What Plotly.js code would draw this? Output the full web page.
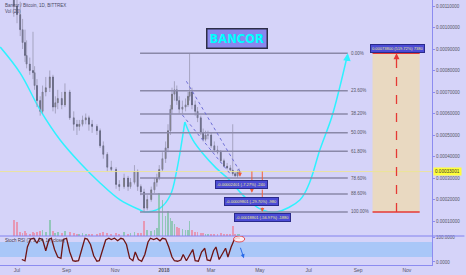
<!DOCTYPE html>
<html><head><meta charset="utf-8">
<script src="https://cdn.plot.ly/plotly-3.0.1.min.js"></script>
<style>html,body{margin:0;padding:0;background:#d5d3f9;}#chart{width:466px;height:275px;}</style>
</head><body><div id="chart"></div>
<script>
const dates = ['2017-06-27','2017-07-01','2017-07-05','2017-07-08','2017-07-11','2017-07-13','2017-07-17','2017-07-21','2017-07-23','2017-07-26',
'2017-07-30','2017-08-02','2017-08-06','2017-08-11','2017-08-15','2017-08-18','2017-08-21','2017-08-26','2017-08-30','2017-09-05',
'2017-09-10','2017-09-14','2017-09-17','2017-09-21','2017-09-25','2017-09-29','2017-10-03','2017-10-09','2017-10-13','2017-10-17',
'2017-10-22','2017-10-27','2017-11-02','2017-11-06','2017-11-12','2017-11-17','2017-11-20','2017-11-25','2017-11-29','2017-12-03',
'2017-12-07','2017-12-11','2017-12-16','2017-12-20','2017-12-23','2017-12-26','2017-12-30','2018-01-03','2018-01-06','2018-01-09',
'2018-01-11','2018-01-14','2018-01-17','2018-01-20','2018-01-24','2018-01-28','2018-01-31','2018-02-02','2018-02-05','2018-02-09',
'2018-02-12','2018-02-16','2018-02-19','2018-02-22','2018-02-25','2018-03-01','2018-03-05','2018-03-09','2018-03-13','2018-03-17',
'2018-03-21','2018-03-25','2018-03-28','2018-03-31','2018-04-03','2018-04-05'];
const open = [0.00118,0.00110,0.00106,0.00099,0.00093,0.00087,0.00083,0.00080,0.00079,0.00073,
0.00066,0.00061,0.00070,0.00072,0.00077,0.00063,0.00065,0.00067,0.00064,0.00070,
0.00058,0.00055,0.00054,0.00055,0.00057,0.00058,0.00055,0.00054,0.00052,0.00045,
0.00041,0.00035,0.00034,0.00027,0.00026,0.00030,0.00026,0.00028,0.00033,0.00026,
0.000235,0.00016,0.00020,0.000245,0.00028,0.00030,0.00034,0.00039,0.00044,0.00052,
0.00062,0.00069,0.00071,0.00066,0.00062,0.00063,0.00064,0.00068,0.00070,0.00064,
0.00061,0.00058,0.00051,0.00048,0.00050,0.00050,0.00045,0.00043,0.00042,0.00038,
0.000355,0.000347,0.000337,0.00032,0.00031,0.000328];
const high = [0.00140,0.00128,0.00112,0.00104,0.00099,0.00094,0.00086,0.00098,0.00082,0.00076,
0.00068,0.00073,0.00077,0.00080,0.00078,0.00068,0.00071,0.00070,0.00074,0.00071,
0.00061,0.00057,0.00057,0.00059,0.00060,0.00059,0.00057,0.00055,0.00053,0.00047,
0.00042,0.00038,0.00035,0.00029,0.00032,0.00031,0.00030,0.00036,0.00034,0.00027,
0.00025,0.00022,0.00026,0.00030,0.00032,0.00036,0.00042,0.00047,0.00055,0.00064,
0.00072,0.00075,0.00073,0.00068,0.00066,0.00067,0.00070,0.00088,0.00072,0.00066,
0.00063,0.00059,0.00053,0.00052,0.00052,0.00051,0.00047,0.00045,0.00043,0.00039,
0.00037,0.00036,0.00055,0.00033,0.00034,0.000345];
const low = [0.00105,0.00102,0.00096,0.00090,0.00084,0.00081,0.00078,0.00076,0.00071,0.00063,
0.00059,0.00060,0.00068,0.00070,0.00061,0.00060,0.00062,0.00062,0.00063,0.00057,
0.00052,0.00050,0.00052,0.00054,0.00055,0.00052,0.00051,0.00050,0.00044,0.00039,
0.00033,0.00033,0.00025,0.00024,0.00025,0.00024,0.00025,0.00027,0.00024,0.00022,
0.000142,0.00015,0.00019,0.00023,0.00026,0.00029,0.00033,0.00037,0.00042,0.00050,
0.00060,0.00066,0.00064,0.00060,0.00060,0.00061,0.00063,0.00066,0.00062,0.00059,
0.00056,0.00050,0.00047,0.00047,0.00048,0.00044,0.00042,0.00041,0.00037,0.00035,
0.00034,0.00033,0.00031,0.000305,0.00030,0.00032];
const close = [0.00110,0.00106,0.00099,0.00093,0.00087,0.00083,0.00080,0.00079,0.00073,0.00066,
0.00061,0.00070,0.00072,0.00077,0.00063,0.00065,0.00067,0.00064,0.00070,0.00058,
0.00055,0.00054,0.00055,0.00057,0.00058,0.00055,0.00054,0.00052,0.00045,0.00041,
0.00035,0.00034,0.00027,0.00026,0.00030,0.00026,0.00028,0.00033,0.00026,0.000235,
0.00016,0.00020,0.000245,0.00028,0.00030,0.00034,0.00039,0.00044,0.00052,0.00062,
0.00069,0.00071,0.00066,0.00062,0.00063,0.00064,0.00068,0.00070,0.00064,0.00061,
0.00058,0.00051,0.00048,0.00050,0.00050,0.00045,0.00043,0.00042,0.00038,0.000355,
0.000347,0.000337,0.00032,0.00031,0.000328,0.00033001];
const volume = [160,140,40,30,50,30,20,40,30,40,50,60,40,160,50,30,40,30,50,40,
30,20,20,30,20,20,20,20,30,40,30,20,30,20,40,20,30,40,30,30,
150,60,50,60,80,430,360,200,250,180,150,120,90,80,70,60,60,150,60,40,
40,30,30,20,20,20,20,20,30,20,20,20,100,20,20,20];

const rsiDates = ['2017-07-07','2017-07-11','2017-07-14','2017-07-18','2017-07-22','2017-07-26','2017-07-29','2017-08-02','2017-08-06','2017-08-10',
'2017-08-13','2017-08-17','2017-08-21','2017-08-25','2017-08-28','2017-09-01','2017-09-05','2017-09-09','2017-09-12','2017-09-16',
'2017-09-20','2017-09-24','2017-09-27','2017-10-01','2017-10-05','2017-10-09','2017-10-12','2017-10-16','2017-10-20','2017-10-24',
'2017-10-27','2017-10-31','2017-11-04','2017-11-08','2017-11-11','2017-11-15','2017-11-19','2017-11-23','2017-11-26','2017-11-30',
'2017-12-04','2017-12-08','2017-12-12','2017-12-15','2017-12-19','2017-12-23','2017-12-27','2017-12-30','2018-01-03','2018-01-07',
'2018-01-11','2018-01-14','2018-01-18','2018-01-22','2018-01-25','2018-01-29','2018-02-02','2018-02-06','2018-02-09','2018-02-13',
'2018-02-17','2018-02-21','2018-02-24','2018-02-28','2018-03-04','2018-03-07','2018-03-11','2018-03-15','2018-03-19','2018-03-22',
'2018-03-26','2018-03-30','2018-04-03','2018-04-06'];
const stochRsi = [10,5,60,92,95,75,95,90,45,90,
95,50,20,15,90,95,40,5,3,5,
50,95,92,70,25,3,5,50,88,95,
90,95,85,95,92,70,15,5,40,10,
3,30,80,95,90,95,85,95,92,60,
20,5,3,8,30,5,25,50,5,3,
40,55,8,5,45,60,10,30,55,20,
60,90,97,95];

// hand-drawn cyan arcs (date, price)
const arcADates = ['2017-06-10','2017-07-05','2017-07-30','2017-08-24','2017-09-18','2017-10-13','2017-11-07','2017-12-02','2017-12-08','2017-12-27','2018-01-09','2018-01-17','2018-01-23','2018-01-27'];
const arcAPrices = [0.000909,0.000788,0.000616,0.000477,0.00037,0.000277,0.000198,0.000151,0.000142,0.00016,0.000221,0.000337,0.000463,0.00056];
const arcBDates = ['2018-01-27','2018-02-06','2018-02-18','2018-03-07','2018-03-24','2018-04-06','2018-04-19','2018-05-04','2018-05-22','2018-06-20','2018-07-02','2018-07-15','2018-07-30','2018-08-09','2018-08-18'];
const arcBPrices = [0.00056,0.000477,0.000416,0.000347,0.000291,0.000235,0.000188,0.000151,0.000142,0.000198,0.000277,0.00043,0.000584,0.000723,0.000863];

const fibHigh = 0.00088, fibLow = 0.000142;
const fibRatios = [0, 0.236, 0.382, 0.5, 0.618, 0.786, 0.886, 1];
const fibLabels = ['0.00%','23.60%','38.20%','50.00%','61.80%','78.60%','88.60%','100.00%'];
const fibStart = '2017-12-02', fibEnd = '2018-08-19';
const lastPrice = 0.00033001;
const priceTicks = [0.0001,0.0002,0.0003,0.0004,0.0005,0.0006,0.0007,0.0008,0.0009,0.0010,0.0011];
const monthTicks = ['2017-07-01','2017-09-01','2017-11-01','2018-01-01','2018-03-01','2018-05-01','2018-07-01','2018-09-01','2018-11-01'];
const monthLabels = ['Jul','Sep','Nov','<b>2018</b>','Mar','May','Jul','Sep','Nov'];

const BG = '#d5d3f9';
const FONT = 'Liberation Sans, Arial, sans-serif';

// wicks
const wx = [], wy = [];
dates.forEach((d,i)=>{ wx.push(d,d,null); wy.push(low[i],high[i],null); });
const bodyHi = open.map((o,i)=>Math.max(o,close[i]));
const bodyLo = open.map((o,i)=>Math.min(o,close[i]));
const volColors = close.map((c,i)=> c>=open[i] ? 'rgba(110,190,150,0.65)' : 'rgba(240,120,145,0.65)');

const traces = [
  {type:'bar', x:dates, y:volume, yaxis:'y3', marker:{color:volColors, line:{width:0}}, width:2.2*86400000, hoverinfo:'skip'},
  {type:'scatter', mode:'lines', x:arcADates, y:arcAPrices, line:{color:'#2ef2ff', width:1.5, shape:'spline'}, hoverinfo:'skip'},
  {type:'scatter', mode:'lines', x:arcBDates, y:arcBPrices, line:{color:'#2ef2ff', width:1.5, shape:'spline'}, hoverinfo:'skip'},
  {type:'scatter', mode:'lines', x:wx, y:wy, line:{color:'rgba(150,148,175,0.75)', width:1}, hoverinfo:'skip'},
  {type:'candlestick', x:dates, open:open, high:bodyHi, low:bodyLo, close:close,
   increasing:{line:{color:'#2b2f45', width:0.6}, fillcolor:'#aaa53a'},
   decreasing:{line:{color:'#2b2f45', width:0.6}, fillcolor:'#2b3550'},
   whiskerwidth:0, hoverinfo:'skip'},
  {type:'scatter', mode:'lines', x:rsiDates, y:stochRsi, yaxis:'y2', line:{color:'#6e1414', width:1.3}, hoverinfo:'skip'}
];

const shapes = [];
const annotations = [];
shapes.push({type:'rect', xref:'paper', yref:'y2', x0:0, x1:1, y0:20, y1:80, fillcolor:'#a9c7f8', line:{width:0}, layer:'below'});
shapes.push({type:'line', xref:'paper', yref:'paper', x0:0, x1:1.075, y0:0.1094, y1:0.1094, line:{color:'#8282ee', width:1}});
shapes.push({type:'line', xref:'paper', yref:'y', x0:0, x1:1, y0:lastPrice, y1:lastPrice, line:{color:'rgba(236,228,150,0.9)', width:1}});
fibRatios.forEach((r,i)=>{
  const p = fibHigh - r*(fibHigh-fibLow);
  shapes.push({type:'line', xref:'x', yref:'y', x0:fibStart, x1:fibEnd, y0:p, y1:p, line:{color:'#8a88a8', width:1.5}});
  annotations.push({x:'2018-08-21', y:p, xref:'x', yref:'y', text:fibLabels[i], showarrow:false, xanchor:'left', yanchor:'middle', font:{size:4.5, color:'#555566', family:FONT}});
});
shapes.push({type:'rect', xref:'x', yref:'y', x0:'2018-09-19', x1:'2018-11-17', y0:fibLow, y1:fibHigh, fillcolor:'#e9d9c1', line:{width:0}, layer:'below'});
shapes.push({type:'line', xref:'x', yref:'y', x0:'2018-09-19', x1:'2018-11-17', y0:fibHigh, y1:fibHigh, line:{color:'#e53935', width:1.5}});
shapes.push({type:'line', xref:'x', yref:'y', x0:'2018-09-19', x1:'2018-11-17', y0:fibLow, y1:fibLow, line:{color:'#e53935', width:1.5}});
shapes.push({type:'line', xref:'x', yref:'y', x0:'2018-10-19', x1:'2018-10-19', y0:fibLow, y1:fibHigh-0.00001, line:{color:'#e53935', width:1.3, dash:'dash'}});
annotations.push({x:'2018-10-19', y:fibHigh, xref:'x', yref:'y', ax:0, ay:6, showarrow:true, arrowhead:2, arrowsize:1, arrowwidth:1.2, arrowcolor:'#e53935', text:''});
shapes.push({type:'line', xref:'x', yref:'y', x0:'2018-01-29', x1:'2018-04-06', y0:0.00075, y1:0.00033, line:{color:'#6f6fd6', width:1, dash:'dot'}});
shapes.push({type:'line', xref:'x', yref:'y', x0:'2018-01-24', x1:'2018-03-26', y0:0.000593, y1:0.000314, line:{color:'#6f6fd6', width:1, dash:'dot'}});
const mArrows = [['2018-04-06',0.000306],['2018-04-21',0.000232],['2018-05-04',0.000142]];
mArrows.forEach(m=>{
  shapes.push({type:'line', xref:'x', yref:'y', x0:m[0], x1:m[0], y0:lastPrice, y1:m[1]+0.000008, line:{color:'#f0603c', width:1, dash:'dash'}});
  annotations.push({x:m[0], y:m[1], xref:'x', yref:'y', ax:0, ay:-5, showarrow:true, arrowhead:2, arrowsize:0.8, arrowwidth:1, arrowcolor:'#f0603c', text:''});
});
const boxStyle = {bgcolor:'#4b4bd6', bordercolor:'#2a2a8a', borderwidth:1, borderpad:1, showarrow:false, xanchor:'center', yanchor:'middle', font:{size:4, color:'#f2ee88', family:FONT}};
annotations.push(Object.assign({x:'2018-04-08', y:0.00027, xref:'x', yref:'y', text:'-0.00002401 (-7.27%) -240'}, boxStyle));
annotations.push(Object.assign({x:'2018-04-20', y:0.000191, xref:'x', yref:'y', text:'-0.00009801 (-29.70%) -980'}, boxStyle));
annotations.push(Object.assign({x:'2018-05-04', y:0.000116, xref:'x', yref:'y', text:'-0.00018801 (-56.97%) -1880'}, boxStyle));
annotations.push(Object.assign({x:'2018-10-20', y:0.000902, xref:'x', yref:'y', text:'0.00073800 (519.72%) 7380'}, boxStyle));
annotations.push({x:'2018-08-19', y:0.00088, xref:'x', yref:'y', ax:-1, ay:9, showarrow:true, arrowhead:2, arrowsize:1, arrowwidth:1.5, arrowcolor:'#2ef2ff', text:''});
annotations.push({x:0.5475, y:0.8547, xref:'paper', yref:'paper', xanchor:'center', yanchor:'middle', text:'<b>BANCOR</b>', showarrow:false, bgcolor:'#8986ee', bordercolor:'#2e2e48', borderwidth:1.5, borderpad:2, font:{size:11.5, color:'#00ffff', family:'DejaVu Sans, sans-serif'}});
annotations.push({x:0.007, y:0.981, xref:'paper', yref:'paper', xanchor:'left', yanchor:'middle', text:'Bancor / Bitcoin, 1D, BITTREX', showarrow:false, font:{size:4.5, color:'#4a4a66', family:FONT}});
annotations.push({x:0.007, y:0.958, xref:'paper', yref:'paper', xanchor:'left', yanchor:'middle', text:'Vol (20)', showarrow:false, font:{size:4.5, color:'#4a4a66', family:FONT}});
annotations.push({x:0.007, y:0.092, xref:'paper', yref:'paper', xanchor:'left', yanchor:'middle', text:'Stoch RSI (3, 3, 14, 14, close)', showarrow:false, font:{size:4.5, color:'#333344', family:FONT}});
annotations.push({x:1, y:lastPrice, xref:'paper', yref:'y', xanchor:'left', yanchor:'middle', xshift:1, text:'0.00033001', showarrow:false, bgcolor:'#ffff3a', borderpad:1, font:{size:4.6, color:'#333333', family:FONT}});
shapes.push({type:'circle', xref:'x', yref:'y2', x0:'2018-03-29', x1:'2018-04-12', y0:80, y1:104, fillcolor:'rgba(255,240,245,0.85)', line:{color:'#e03030', width:0.8}});
annotations.push({x:'2018-04-11', y:15, xref:'x', yref:'y2', ax:-4, ay:-12, showarrow:true, arrowhead:2, arrowsize:0.8, arrowwidth:1, arrowcolor:'#2a6ae8', text:''});

const layout = {
  width:466, height:275,
  margin:{l:0, r:34, t:0, b:10, pad:0},
  paper_bgcolor:BG, plot_bgcolor:BG,
  showlegend:false,
  font:{family:FONT, size:5, color:'#555566'},
  xaxis:{type:'date', anchor:'y2', range:['2017-06-09 17:00','2018-12-02 10:00'], rangeslider:{visible:false},
         tickvals:monthTicks, ticktext:monthLabels, showgrid:false, zeroline:false, showline:true, linecolor:'#8c8cf0', linewidth:1,
         ticks:'', tickfont:{size:5, color:'#555566'}},
  yaxis:{domain:[0.1094,1], side:'right', range:[0.00003023,0.0011279], tickvals:priceTicks, tickformat:'.8f',
         showgrid:false, zeroline:false, showline:true, linecolor:'#8c8cf0', linewidth:1, ticks:'outside', ticklen:2, tickcolor:'#8c8cf0',
         ticklabelstandoff:0, tickfont:{size:4.5, color:'#555566'}},
  yaxis2:{domain:[0,0.1094], side:'right', range:[-12,104], tickvals:[0,100], tickformat:'.4f', showgrid:false, zeroline:false,
          showline:true, linecolor:'#8c8cf0', linewidth:1, ticks:'outside', ticklen:2, tickcolor:'#8c8cf0', ticklabelstandoff:0, tickfont:{size:4.5, color:'#555566'}},
  yaxis3:{overlaying:'y', range:[0,2360], visible:false, showgrid:false, zeroline:false},
  shapes:shapes, annotations:annotations,
  bargap:0
};
Plotly.newPlot('chart', traces, layout, {staticPlot:true, displayModeBar:false});
</script></body></html>
